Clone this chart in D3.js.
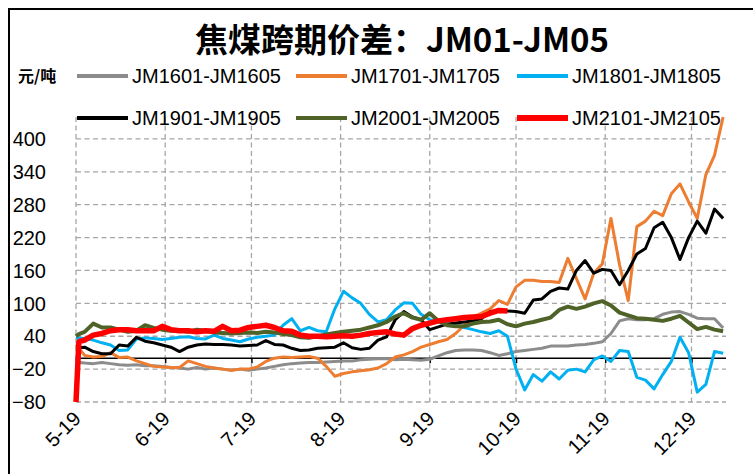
<!DOCTYPE html>
<html>
<head>
<meta charset="utf-8">
<script src="https://cdn.jsdelivr.net/npm/d3@7"></script>
<style>
body{margin:0;background:#fff;}
svg{display:block;}
</style>
</head>
<body>
<div class="svg"></div>
<script>
// sample dates (about every 3 days), month-day only
const dates = [
  "05-19","05-20","05-22","05-25","05-28","05-31",
  "06-03","06-06","06-09","06-12","06-15","06-18","06-21","06-24","06-27","06-30",
  "07-03","07-06","07-09","07-12","07-15","07-18","07-21","07-24","07-27","07-30",
  "08-02","08-05","08-08","08-11","08-14","08-17","08-20","08-23","08-26","08-29",
  "09-01","09-04","09-07","09-10","09-13","09-16","09-19","09-22","09-25","09-28",
  "10-01","10-04","10-07","10-10","10-13","10-16","10-19","10-22","10-25","10-28","10-31",
  "11-03","11-06","11-09","11-12","11-15","11-18","11-21","11-24","11-27","11-30",
  "12-03","12-06","12-09","12-12","12-15","12-18","12-21","12-24","12-27","12-30"
];

const jm1601 = [
  -8,-8,-9,-10,-8,-10,
  -12,-13,-12,-14,-14,-15,-17,-18,-20,-17,
  -20,-18,-20,-22,-20,-22,-20,-18,-15,-12,
  -10,-9,-8,-8,-7,-6,-5,-5,-3,-2,
  -1,-1,-3,-2,-3,-4,-2,4,10,14,
  15,15,14,10,5,8,12,14,16,18,22,
  22,22,24,25,27,30,45,68,72,70,
  70,72,80,84,85,80,73,72,72,55
];
const jm1701 = [
  25,18,5,2,3,10,
  1,2,-5,-10,-15,-16,-17,-17,-5,-10,
  -15,-18,-20,-22,-20,-20,-16,-6,0,2,
  1,2,3,0,-15,-33,-28,-25,-23,-21,
  -18,-10,2,6,12,20,25,30,34,45,
  60,75,82,90,105,98,130,142,142,140,140,
  138,182,145,108,155,172,255,170,105,240,
  250,268,260,300,318,285,255,335,370,440
];
const jm1801 = [
  37,37,36,33,28,24,
  14,15,35,37,36,34,36,38,39,36,
  35,42,36,33,30,35,38,40,42,60,
  72,50,56,50,48,90,122,110,100,80,
  66,70,88,101,100,80,70,66,63,60,
  56,52,48,45,50,40,-20,-58,-30,-42,-25,
  -38,-22,-20,-25,-3,4,-6,14,12,-35,
  -40,-56,-30,-6,38,10,-62,-48,12,9
];
const jm1901 = [
  18,19,20,12,8,8,
  24,22,38,31,28,24,20,12,20,24,
  26,25,25,24,22,23,24,32,25,24,
  18,14,15,18,19,20,28,19,16,18,
  33,39,70,85,75,70,52,57,62,64,
  66,68,72,85,86,86,85,82,106,108,122,
  128,126,160,178,155,162,160,134,160,190,
  200,238,248,220,180,220,250,228,272,255
];
const jm2001 = [
  40,44,48,63,56,56,
  52,48,50,60,55,52,50,51,48,52,
  50,47,46,45,46,47,46,48,47,44,
  42,38,37,40,43,46,48,50,52,56,
  60,66,76,82,74,70,82,68,60,58,
  58,63,66,67,70,62,58,63,66,70,74,
  88,94,90,94,100,104,96,83,78,73,
  72,70,68,72,77,65,53,57,52,49
];
const jm2101 = [
  -80,30,33,42,45,50,
  52,52,50,50,50,58,52,50,50,48,
  50,49,58,50,51,56,58,60,56,50,
  49,42,40,40,39,40,41,40,42,45,
  47,48,44,42,54,60,64,68,70,72,
  74,75,76,82,87,86
];

const seriesNames = ["JM1601-JM1605","JM1701-JM1705","JM1801-JM1805","JM1901-JM1905","JM2001-JM2005","JM2101-JM2105"];
const seriesValues = [jm1601, jm1701, jm1801, jm1901, jm2001, jm2101];
const colors = ["#8c8c8c","#ed7d31","#00b0f0","#000000","#4f6228","#ff0000"];
const widths = [3, 3, 3, 3, 4, 5.5];

const yTicks = [-80,-20,40,100,160,220,280,340,400];
const xTickDates = ["05-19","06-19","07-19","08-19","09-19","10-19","11-19","12-19"];
const xTickLabels = ["5-19","6-19","7-19","8-19","9-19","10-19","11-19","12-19"];

const w = 753;
const h = 474;
const pLeft = 76, pRight = 726, pTop = 117, pBottom = 402;
const parseDate = d3.timeParse("%m-%d");

let svg = d3.select(".svg").append("svg")
  .attr("width", w)
  .attr("height", h)
  .style("background", "#fff");

// outer frame
svg.append("path")
  .attr("d", "M9,480 L9,9 L760,9")
  .attr("fill", "none")
  .attr("stroke", "#000")
  .attr("stroke-width", 2);

svg.append("text")
  .text("焦煤跨期价差：JM01-JM05")
  .attr("x", 402)
  .attr("y", 52)
  .attr("text-anchor", "middle")
  .attr("font-family", "'Noto Sans CJK SC', sans-serif")
  .attr("font-weight", "bold")
  .attr("font-size", 33)
  .attr("fill", "#000");

svg.append("text")
  .text("元/吨")
  .attr("x", 18)
  .attr("y", 82)
  .attr("font-family", "'Noto Sans CJK SC', sans-serif")
  .attr("font-weight", "bold")
  .attr("font-size", 16)
  .attr("fill", "#000");

let x = d3.scaleTime()
  .domain([parseDate("05-19"), parseDate("12-31")])
  .range([pLeft, pRight]);
let y = d3.scaleLinear()
  .domain([-80, 440])
  .range([pBottom, pTop]);

// grid
let grid = svg.append("g").attr("stroke", "#a6a6a6").attr("stroke-width", 1.3).attr("stroke-dasharray", "5,3.5");
grid.selectAll(".hg").data(yTicks).enter().append("line")
  .attr("x1", pLeft).attr("x2", pRight)
  .attr("y1", d => y(d)).attr("y2", d => y(d));
grid.selectAll(".vg").data(xTickDates).enter().append("line")
  .attr("x1", d => x(parseDate(d))).attr("x2", d => x(parseDate(d)))
  .attr("y1", pTop).attr("y2", pBottom);

// zero axis with ticks
const xAxis = d3.axisBottom(x)
  .tickValues(xTickDates.map(parseDate))
  .tickSize(5)
  .tickFormat("");
let ax = svg.append("g")
  .attr("transform", "translate(0," + y(0) + ")")
  .call(xAxis);
ax.select(".domain").attr("d", "M" + pLeft + ",0H" + pRight).attr("stroke", "#000").attr("stroke-width", 1.5);
ax.selectAll(".tick line").attr("stroke", "#000").attr("stroke-width", 1.5);

// y labels
svg.append("g").selectAll("text").data(yTicks).enter().append("text")
  .attr("x", 46)
  .attr("y", d => y(d))
  .attr("dy", "0.36em")
  .attr("text-anchor", "end")
  .attr("font-family", "'Liberation Sans', Arial, sans-serif")
  .attr("font-size", 20)
  .text(d => d < 0 ? "\u2212" + Math.abs(d) : d);

// x labels
svg.append("g").selectAll("text").data(xTickDates).enter().append("text")
  .attr("transform", d => "translate(" + (x(parseDate(d)) + 6) + ",420) rotate(-45)")
  .attr("text-anchor", "end")
  .attr("font-family", "'Liberation Sans', Arial, sans-serif")
  .attr("font-size", 20)
  .text((d, i) => xTickLabels[i]);

// lines
let line = d3.line()
  .defined(d => d.v != null)
  .x(d => x(d.date))
  .y(d => y(d.v));

seriesValues.forEach((vals, i) => {
  let pts = vals.map((v, j) => ({date: parseDate(dates[j]), v: v}));
  svg.append("path")
    .datum(pts)
    .attr("d", line)
    .attr("fill", "none")
    .attr("stroke", colors[i])
    .attr("stroke-width", widths[i])
    .attr("stroke-linejoin", "round");
});

// legend
let legend = svg.append("g").attr("id", "legend");
const legX = [77, 296, 517];
const legY = [76, 118];
seriesNames.forEach((name, i) => {
  let lx = legX[i % 3], ly = legY[Math.floor(i / 3)];
  legend.append("line")
    .attr("x1", lx).attr("x2", lx + 51)
    .attr("y1", ly).attr("y2", ly)
    .attr("stroke", colors[i])
    .attr("stroke-width", i == 5 ? 6 : 4);
  legend.append("text")
    .text(name)
    .attr("x", lx + 55)
    .attr("y", ly)
    .attr("dy", "0.36em")
    .attr("font-family", "'Liberation Sans', Arial, sans-serif")
    .attr("font-size", 20)
    .attr("fill", "#000");
});
</script>
</body>
</html>
